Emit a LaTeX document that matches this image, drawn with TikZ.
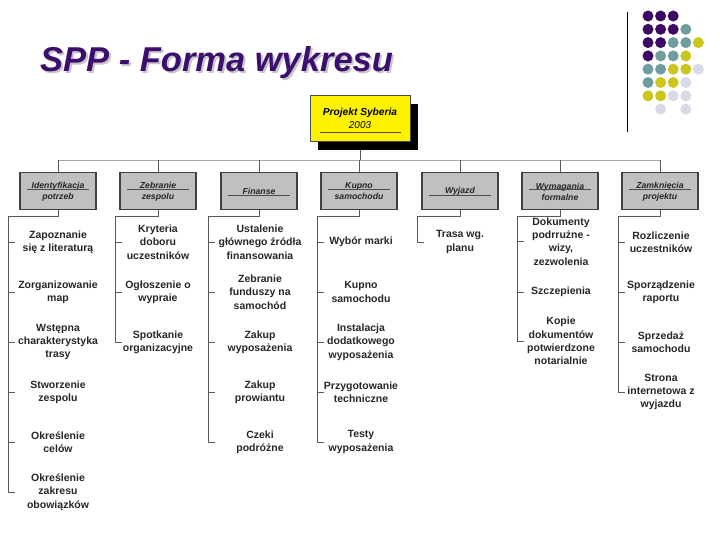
\documentclass[tikz,border=0pt]{standalone}
\usepackage{fontspec}
\setmainfont{Liberation Sans}
\usetikzlibrary{calc}
\definecolor{titlec}{HTML}{3C0F6E}
\definecolor{dotP}{HTML}{3D0A63}
\definecolor{dotT}{HTML}{6F9C9C}
\definecolor{dotY}{HTML}{C9C71E}
\definecolor{dotL}{HTML}{D9D9E8}
\definecolor{boxg}{HTML}{C0C0C0}
\tikzset{
 l2box/.style={draw=black!75, line width=1.5pt, fill=boxg, minimum width=76pt, minimum height=37pt, inner sep=0pt},
 l2txt/.style={font=\fontsize{8.7}{11}\selectfont\bfseries\itshape, align=center, text=black!85, inner sep=0pt},
 item/.style={font=\fontsize{10.5}{13.3}\selectfont\bfseries, align=center, text=black!85, inner sep=0pt},
 bus/.style={draw=gray!70, line width=0.7pt},
 tree/.style={draw=black!65, line width=0.7pt},
 uline/.style={draw=black!70, line width=0.6pt},
 dot/.style={circle, minimum size=11pt, inner sep=0pt},
 ttl/.style={font=\fontsize{34.5}{40}\selectfont\bfseries\itshape, anchor=base west, inner sep=0pt},
}
\begin{document}
\begin{tikzpicture}[x=1pt,y=-1pt]
\useasboundingbox (0,0) rectangle (720,540);
% title
\node[ttl, text=gray!45] (tsh) at (42,74) {SPP - Forma wykresu};
\node[ttl, text=titlec] (title) at (40,72) {SPP - Forma wykresu};
% decoration
\coordinate (vl1) at (627,12);
\coordinate (vl2) at (627,132);
\draw[black, line width=0.8pt] (vl1) -- (vl2);
\foreach \c/\r/\col in {0/0/dotP,1/0/dotP,2/0/dotP,
  0/1/dotP,1/1/dotP,2/1/dotP,3/1/dotT,
  0/2/dotP,1/2/dotP,2/2/dotT,3/2/dotT,4/2/dotY,
  0/3/dotP,1/3/dotT,2/3/dotT,3/3/dotY,
  0/4/dotT,1/4/dotT,2/4/dotY,3/4/dotY,4/4/dotL,
  0/5/dotT,1/5/dotY,2/5/dotY,3/5/dotL,
  0/6/dotY,1/6/dotY,2/6/dotL,3/6/dotL,
  1/7/dotL,3/7/dotL}
  \node[dot, fill=\col] (d\c\r) at ({648+12.6*\c},{16+13.3*\r}) {};
% top box
\node[fill=black, minimum width=100pt, minimum height=46pt, inner sep=0pt] (topsh) at (368,127) {};
\node[fill=yellow, draw=black!70, line width=1pt, minimum width=100pt, minimum height=46pt, inner sep=0pt] (top) at (360,119) {};
\node[font=\fontsize{10.2}{12}\selectfont\bfseries\itshape, inner sep=0pt] (tt1) at (360,113) {Projekt Syberia};
\node[font=\fontsize{10}{12}\selectfont\itshape, inner sep=0pt] (tt2) at (360,125) {2003};
\draw[uline] ($(top.west)+(10,13)$) -- ($(top.east)+(-10,13)$);
% level 2 boxes
\foreach \i/\x/\txt/\n in {1/58/{Identyfikacja\\potrzeb}/2,2/158/{Zebranie\\zespolu}/2,3/259/{Finanse}/1,4/359/{Kupno\\samochodu}/2,5/460/{Wyjazd}/1,6/560/{Wymagania\\formalne}/2,7/660/{Zamknięcia\\projektu}/2}{
  \node[l2box] (b\i) at (\x,191) {};
  \node[l2txt] (t\i) at (\x,191.5) {\txt};
  \ifnum\n=2
    \draw[uline] ($(b\i.west)+(8,-1.5)$) -- ($(b\i.east)+(-8,-1.5)$);
  \else
    \draw[uline] ($(b\i.west)+(8,4)$) -- ($(b\i.east)+(-8,4)$);
  \fi
}
% bus
\coordinate (busL) at (58,160);
\coordinate (busR) at (660,160);
\draw[bus] (busL) -- (busR);
\draw[tree] (top.south |- topsh.south) -- (top.south |- busL);
\foreach \i in {1,...,7}{
  \draw[tree] (b\i.north |- busL) -- (b\i.north);
}
% column 1
\node[item] (i11) at (58,242) {Zapoznanie\\się z literaturą};
\node[item] (i12) at (58,292) {Zorganizowanie\\map};
\node[item] (i13) at (58,342) {Wstępna\\charakterystyka\\trasy};
\node[item] (i14) at (58,392) {Stworzenie\\zespolu};
\node[item] (i15) at (58,442) {Określenie\\celów};
\node[item] (i16) at (58,492) {Określenie\\zakresu\\obowiązków};
% column 2
\node[item] (i21) at (158,242) {Kryteria\\doboru\\uczestników};
\node[item] (i22) at (158,292) {Ogłoszenie o\\wypraie};
\node[item] (i23) at (158,342) {Spotkanie\\organizacyjne};
% column 3
\node[item] (i31) at (260,242) {Ustalenie\\głównego źródła\\finansowania};
\node[item] (i32) at (260,292) {Zebranie\\funduszy na\\samochód};
\node[item] (i33) at (260,342) {Zakup\\wyposażenia};
\node[item] (i34) at (260,392) {Zakup\\prowiantu};
\node[item] (i35) at (260,442) {Czeki\\podróżne};
% column 4
\node[item] (i41) at (361,242) {Wybór marki};
\node[item] (i42) at (361,292) {Kupno\\samochodu};
\node[item] (i43) at (361,342) {Instalacja\\dodatkowego\\wyposażenia};
\node[item] (i44) at (361,392) {Przygotowanie\\techniczne};
\node[item] (i45) at (361,442) {Testy\\wyposażenia};
% column 5
\node[item] (i51) at (460,242) {Trasa wg.\\planu};
% column 6
\node[item] (i61) at (561,241.5) {Dokumenty\\podrrużne -\\wizy,\\zezwolenia};
\node[item] (i62) at (561,292) {Szczepienia};
\node[item] (i63) at (561,341) {Kopie\\dokumentów\\potwierdzone\\notarialnie};
% column 7
\node[item] (i71) at (661,242) {Rozliczenie\\uczestników};
\node[item] (i72) at (661,292) {Sporządzenie\\raportu};
\node[item] (i73) at (661,342) {Sprzedaż\\samochodu};
\node[item] (i74) at (661,392) {Strona\\internetowa z\\wyjazdu};
% tree lines
\foreach \c/\kx/\last/\n in {1/8/6/6,2/115/3/3,3/208/5/5,4/317/5/5,5/417/1/1,6/517/3/3,7/618/4/4}{
  \coordinate (k\c) at (\kx,216);
  \draw[tree] (b\c.south) -- (b\c.south |- k\c) -- (k\c) -- (k\c |- i\c\last);
  \foreach \j in {1,...,\n}{
    \draw[tree] (k\c |- i\c\j) -- ++(7,0);
  }
}
\end{tikzpicture}
\end{document}
